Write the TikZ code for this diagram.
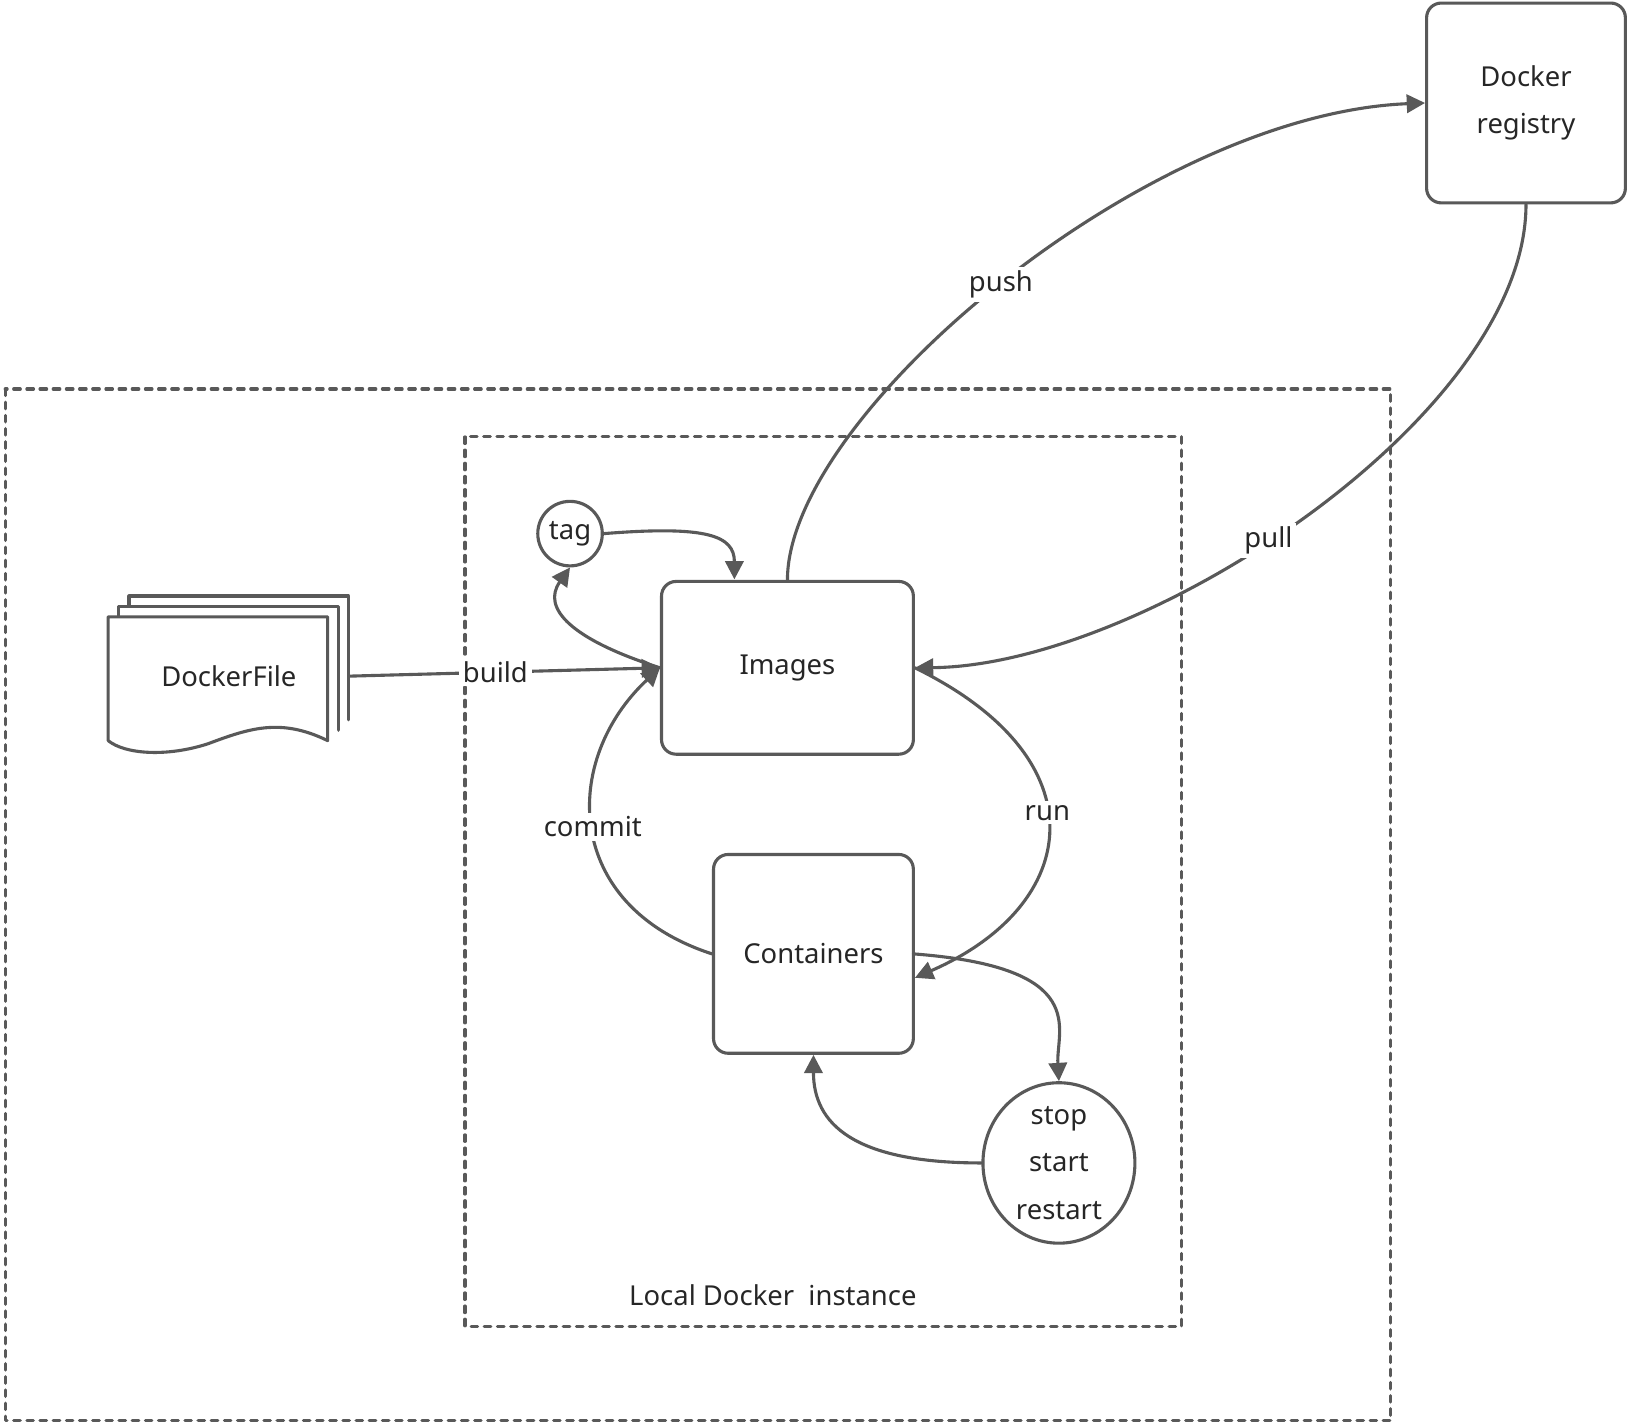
\documentclass[tikz,border=0pt]{standalone}
\usepackage{fontspec}
\setmainfont{Noto Sans}
\usetikzlibrary{arrows.meta,shapes.geometric}
\definecolor{lineg}{HTML}{595959}
\tikzset{
  box/.style={draw=lineg,line width=0.85pt,rounded corners=4pt,fill=white,align=center},
  ring/.style={draw=lineg,line width=0.85pt,circle,fill=white,inner sep=0pt},
  link/.style={draw=lineg,line width=0.85pt,-{Triangle[length=5pt,width=5pt]}},
  frame/.style={draw=lineg,line width=0.85pt,dash pattern=on 1.8pt off 1.8pt},
  lbl/.style={fill=white,inner sep=1pt}
}
\begin{document}
\begin{tikzpicture}[line cap=round,line join=round,x=0.01cm,y=-0.01cm,font=\fontsize{7.5}{9}\selectfont,text=black!85]
\useasboundingbox (0,0) rectangle (1567,1370);

% frames
\draw[frame] (5,374) rectangle (1337,1366);
\draw[frame] (447,420) rectangle (1136,1275);
\node at (743,1245) {Local Docker\ \ instance};

% nodes
\node[box,minimum width=1.91cm,minimum height=1.92cm] (reg) at (1467,99) {Docker\\[4pt]registry};
\node[box,minimum width=2.42cm,minimum height=1.66cm] (img) at (757,642) {Images};
\node[box,minimum width=1.92cm,minimum height=1.91cm] (cont) at (782,917) {Containers};
\node[ring,minimum size=0.62cm] (tag) at (548,513) {tag};
\node[draw=lineg,line width=0.85pt,ellipse,fill=white,minimum width=1.46cm,minimum height=1.42cm,inner sep=0pt,align=center] (life) at (1018,1118) {stop\\[4pt]start\\[4pt]restart};

% dockerfile stack
\foreach \d in {20,10}
  \draw[lineg,line width=0.85pt,fill=white] (104+\d,712-\d) -- (104+\d,593-\d) -- (315+\d,593-\d) -- (315+\d,712-\d);
\draw[lineg,line width=0.85pt,fill=white] (104,712) -- (104,593) -- (315,593) -- (315,712)
  .. controls (270,690) and (240,700) .. (200,715) .. controls (160,728) and (120,725) .. (104,712);
\node (df) at (220,650) {DockerFile};
\coordinate (dfr) at (336,650);

% connectors
\draw[link] (img.north) .. controls (757,400) and (1100,110) .. (reg.west)
  node[pos=0.5,lbl] {push};
\draw[link] (reg.south) .. controls (1467,400) and (1100,640) .. (img.east)
  node[pos=0.55,lbl] {pull};
\draw[link] (dfr) -- (img.west) node[pos=0.47,lbl] {build};
\draw[link] (tag.east) .. controls (680,505) and (706,515) .. (706,557);
\draw[link] (img.west) .. controls (550,615) and (520,585) .. (tag.south);
\draw[link] (cont.west) .. controls (540,870) and (540,730) .. (img.west)
  node[pos=0.5,lbl] {commit};
\draw[link] (img.east) .. controls (1060,730) and (1040,870) .. (cont.east |- 0,940)
  node[pos=0.45,lbl] {run};
\draw[link] (878,917) .. controls (1050,930) and (1015,990) .. (life.north);
\draw[link] (life.west) .. controls (820,1118) and (782,1080) .. (cont.south);
\end{tikzpicture}
\end{document}
